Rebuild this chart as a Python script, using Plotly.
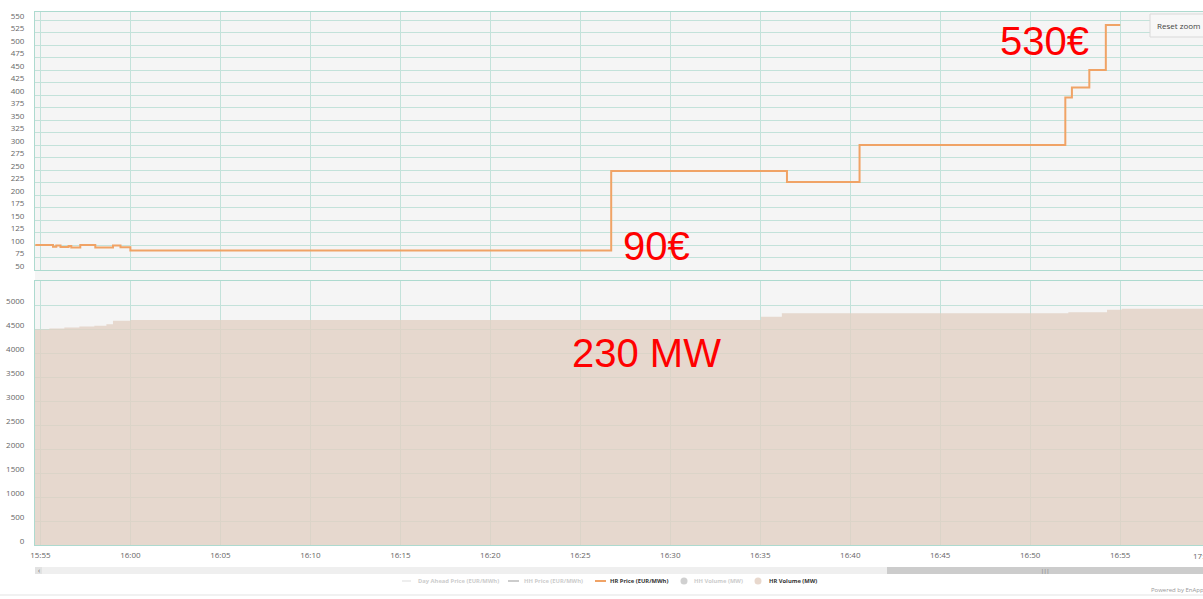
import plotly.graph_objects as go

DAY = "2024-01-01 "

# HR price (EUR/MWh), step series
price_times = ["15:54:43", "15:55:42", "15:55:53", "15:56:07", "15:56:34", "15:56:43",
               "15:57:13", "15:58:03", "15:59:02", "15:59:27", "16:00:00", "16:26:43",
               "16:36:29", "16:40:31", "16:51:57", "16:52:19", "16:53:17", "16:54:12",
               "16:55:00"]
price_values = [100, 96.5, 99, 96, 98, 95, 100, 95, 99, 95.5, 89, 248,
                226, 300, 395, 415, 450, 540, 540]

# HR volume (MW), step series
volume_times = ["15:54:42", "15:55:30", "15:56:20", "15:57:10", "15:58:00", "15:58:40",
                "15:59:02", "16:00:00", "16:35:02", "16:36:12", "16:52:07", "16:54:16",
                "16:55:05", "16:59:40"]
volume_values = [4490, 4510, 4530, 4550, 4570, 4600, 4670, 4690, 4755, 4830, 4850,
                 4900, 4920, 4920]

price_ticks = list(range(50, 551, 25))
volume_ticks = list(range(0, 5001, 500))

legend_names = ["Day Ahead Price (EUR/MWh)", "HH Price (EUR/MWh)", "HR Price (EUR/MWh)",
                "HH Volume (MW)", "HR Volume (MW)"]

annotations_text = [("530€", "16:50:47", 509, "y2"),
                    ("90€", "16:29:13", 98, "y2"),
                    ("230 MW", "16:28:40", 4010, "y")]

X_RANGE = [DAY + "15:54:42", DAY + "16:59:36"]

GRID = "#c3e2da"
AXISLINE = "#addacf"
BG = "#f5f5f5"
ORANGE = "#f0a366"
FILL = "rgba(225,207,195,0.78)"
TICKFONT = dict(family="Open Sans, DejaVu Sans, sans-serif", size=8, color="#666666")

W, H = 1203, 599
PL, PT, PB = 35, 12, 545          # plot area in page pixels
ML, MT, MB, MR = PL, PT, H - PB, 0
PW = W - ML - MR
PH = H - MT - MB


def py(ypage):
    return (PB - ypage) / PH


def px(xpage):
    return (xpage - PL) / PW


fig = go.Figure()

# HR price
fig.add_trace(go.Scatter(x=[DAY + t for t in price_times], y=price_values,
                         name=legend_names[2], mode="lines", line_shape="hv",
                         line=dict(color=ORANGE, width=2),
                         xaxis="x2", yaxis="y2"))

# HR volume area
fig.add_trace(go.Scatter(x=[DAY + t for t in volume_times], y=volume_values,
                         name=legend_names[4], mode="lines", line_shape="hv",
                         line=dict(width=0, color="rgba(225,207,195,1)"),
                         fill="tozeroy", fillcolor=FILL,
                         xaxis="x", yaxis="y"))

xcommon = dict(type="date", range=X_RANGE, tick0=DAY + "15:55:00", dtick=300000,
               tickformat="%H:%M", showgrid=True, gridcolor=GRID, gridwidth=1,
               showline=True, linecolor=AXISLINE, linewidth=1, mirror=True,
               zeroline=False, ticks="", tickfont=TICKFONT)

fig.update_layout(
    width=W, height=H,
    margin=dict(l=ML, r=MR, t=MT, b=MB),
    paper_bgcolor="white",
    plot_bgcolor=BG,
    font=dict(family="Open Sans, DejaVu Sans, sans-serif"),
    xaxis=dict(**xcommon, anchor="y", ticklabelstandoff=2),
    xaxis2=dict(**xcommon, anchor="y2", matches="x", showticklabels=False),
    yaxis=dict(domain=[0, py(281)], range=[0, 5500], tickvals=volume_ticks,
               showgrid=True, gridcolor=GRID, gridwidth=1, showline=True,
               linecolor=AXISLINE, mirror=True, zeroline=False, ticks="",
               tickfont=TICKFONT, ticklabelshift=-4, ticklabelstandoff=8),
    yaxis2=dict(domain=[py(270), 1], range=[50, 566], tickvals=price_ticks,
                showgrid=True, gridcolor=GRID, gridwidth=1, showline=True,
                linecolor=AXISLINE, mirror=True, zeroline=False, ticks="",
                tickfont=TICKFONT, ticklabelshift=-4, ticklabelstandoff=8),
    showlegend=False,
    hovermode=False,
)

shapes = [
    # background between panels
    dict(type="rect", xref="paper", yref="paper", x0=0, x1=1, y0=py(281), y1=py(270),
         fillcolor=BG, line=dict(width=0), layer="below"),
    # scrollbar track
    dict(type="rect", xref="paper", yref="paper", x0=0, x1=1, y0=py(574), y1=py(567),
         fillcolor="#efefef", line=dict(width=0)),
    dict(type="rect", xref="paper", yref="paper", x0=0, x1=px(42), y0=py(574), y1=py(567),
         fillcolor="#e2e2e2", line=dict(width=0)),
    # scrollbar thumb
    dict(type="rect", xref="paper", yref="paper", x0=px(887), x1=1.01, y0=py(574), y1=py(567),
         fillcolor="#cccccc", line=dict(width=0)),
    # bottom separator line
    dict(type="line", xref="paper", yref="paper", x0=px(0), x1=1.01, y0=py(595), y1=py(595),
         line=dict(color="#e3e3e3", width=1)),
    # reset zoom button
    dict(type="rect", xref="paper", yref="paper", x0=px(1150), x1=px(1212), y0=py(37), y1=py(14),
         fillcolor="#f7f7f7", line=dict(color="#d9d9d9", width=1), layer="above"),
]

# legend (drawn as in the original Highcharts legend)
LEG_Y = 581
leg_symbols = [
    dict(kind="line", x=402, color="#dddddd", dash="dash"),
    dict(kind="line", x=508, color="#cccccc", dash="solid"),
    dict(kind="line", x=595, color=ORANGE, dash="solid"),
    dict(kind="dot", x=684, color="#d0d0d0"),
    dict(kind="dot", x=758, color="#e8d8cd"),
]
leg_text_x = [416, 522, 608, 692, 767]
leg_text_color = ["#cccccc", "#cccccc", "#333333", "#cccccc", "#333333"]

for s in leg_symbols:
    if s["kind"] == "line":
        shapes.append(dict(type="line", xref="paper", yref="paper",
                           x0=px(s["x"]), x1=px(s["x"] + 11), y0=py(LEG_Y), y1=py(LEG_Y),
                           line=dict(color=s["color"], width=2 if s["dash"] == "solid" else 1,
                                     dash=s["dash"])))
    else:
        shapes.append(dict(type="circle", xref="paper", yref="paper",
                           x0=px(s["x"] - 3.5), x1=px(s["x"] + 3.5),
                           y0=py(LEG_Y + 3.5), y1=py(LEG_Y - 3.5),
                           fillcolor=s["color"], line=dict(width=0)))

annots = []
for name, tx, col in zip(legend_names, leg_text_x, leg_text_color):
    annots.append(dict(text="<b>" + name + "</b>", xref="paper", yref="paper",
                       x=px(tx), y=py(LEG_Y), showarrow=False, xanchor="left",
                       yanchor="middle",
                       font=dict(family="Open Sans, DejaVu Sans, sans-serif", size=5.8,
                                 color=col)))

for text, t, v, yref in annotations_text:
    xref = "x2" if yref == "y2" else "x"
    annots.append(dict(text=text, x=DAY + t, y=v, xref=xref, yref=yref, showarrow=False,
                       font=dict(family="Liberation Sans, Arial, sans-serif", size=40,
                                 color="#ff0000"),
                       xanchor="center", yanchor="middle"))

annots += [
    dict(text="17:00", xref="paper", yref="paper", x=px(1203), y=py(555), showarrow=False,
         xanchor="center", yanchor="middle", font=TICKFONT),
    dict(text="Reset zoom", xref="paper", yref="paper", x=px(1155), y=py(25.5),
         showarrow=False, xanchor="left", yanchor="middle",
         font=dict(family="Open Sans, DejaVu Sans, sans-serif", size=8, color="#444444")),
    dict(text="Powered by EnAppSys", xref="paper", yref="paper", x=px(1149), y=py(590),
         showarrow=False, xanchor="left", yanchor="middle",
         font=dict(family="Open Sans, DejaVu Sans, sans-serif", size=6, color="#999999")),
    dict(text="‹", xref="paper", yref="paper", x=px(38.5), y=py(570.5), showarrow=False,
         xanchor="center", yanchor="middle", font=dict(size=7, color="#666666")),
    dict(text="|||", xref="paper", yref="paper", x=px(1045), y=py(570.5), showarrow=False,
         xanchor="center", yanchor="middle", font=dict(size=5, color="#666666")),
]

fig.update_layout(shapes=shapes, annotations=annots)

fig.write_html(
    "out.html",
    config={"displayModeBar": False},
    post_script="document.body.style.margin='0';"
                "document.body.style.overflow='hidden';"
                "document.documentElement.style.overflow='hidden';",
)
